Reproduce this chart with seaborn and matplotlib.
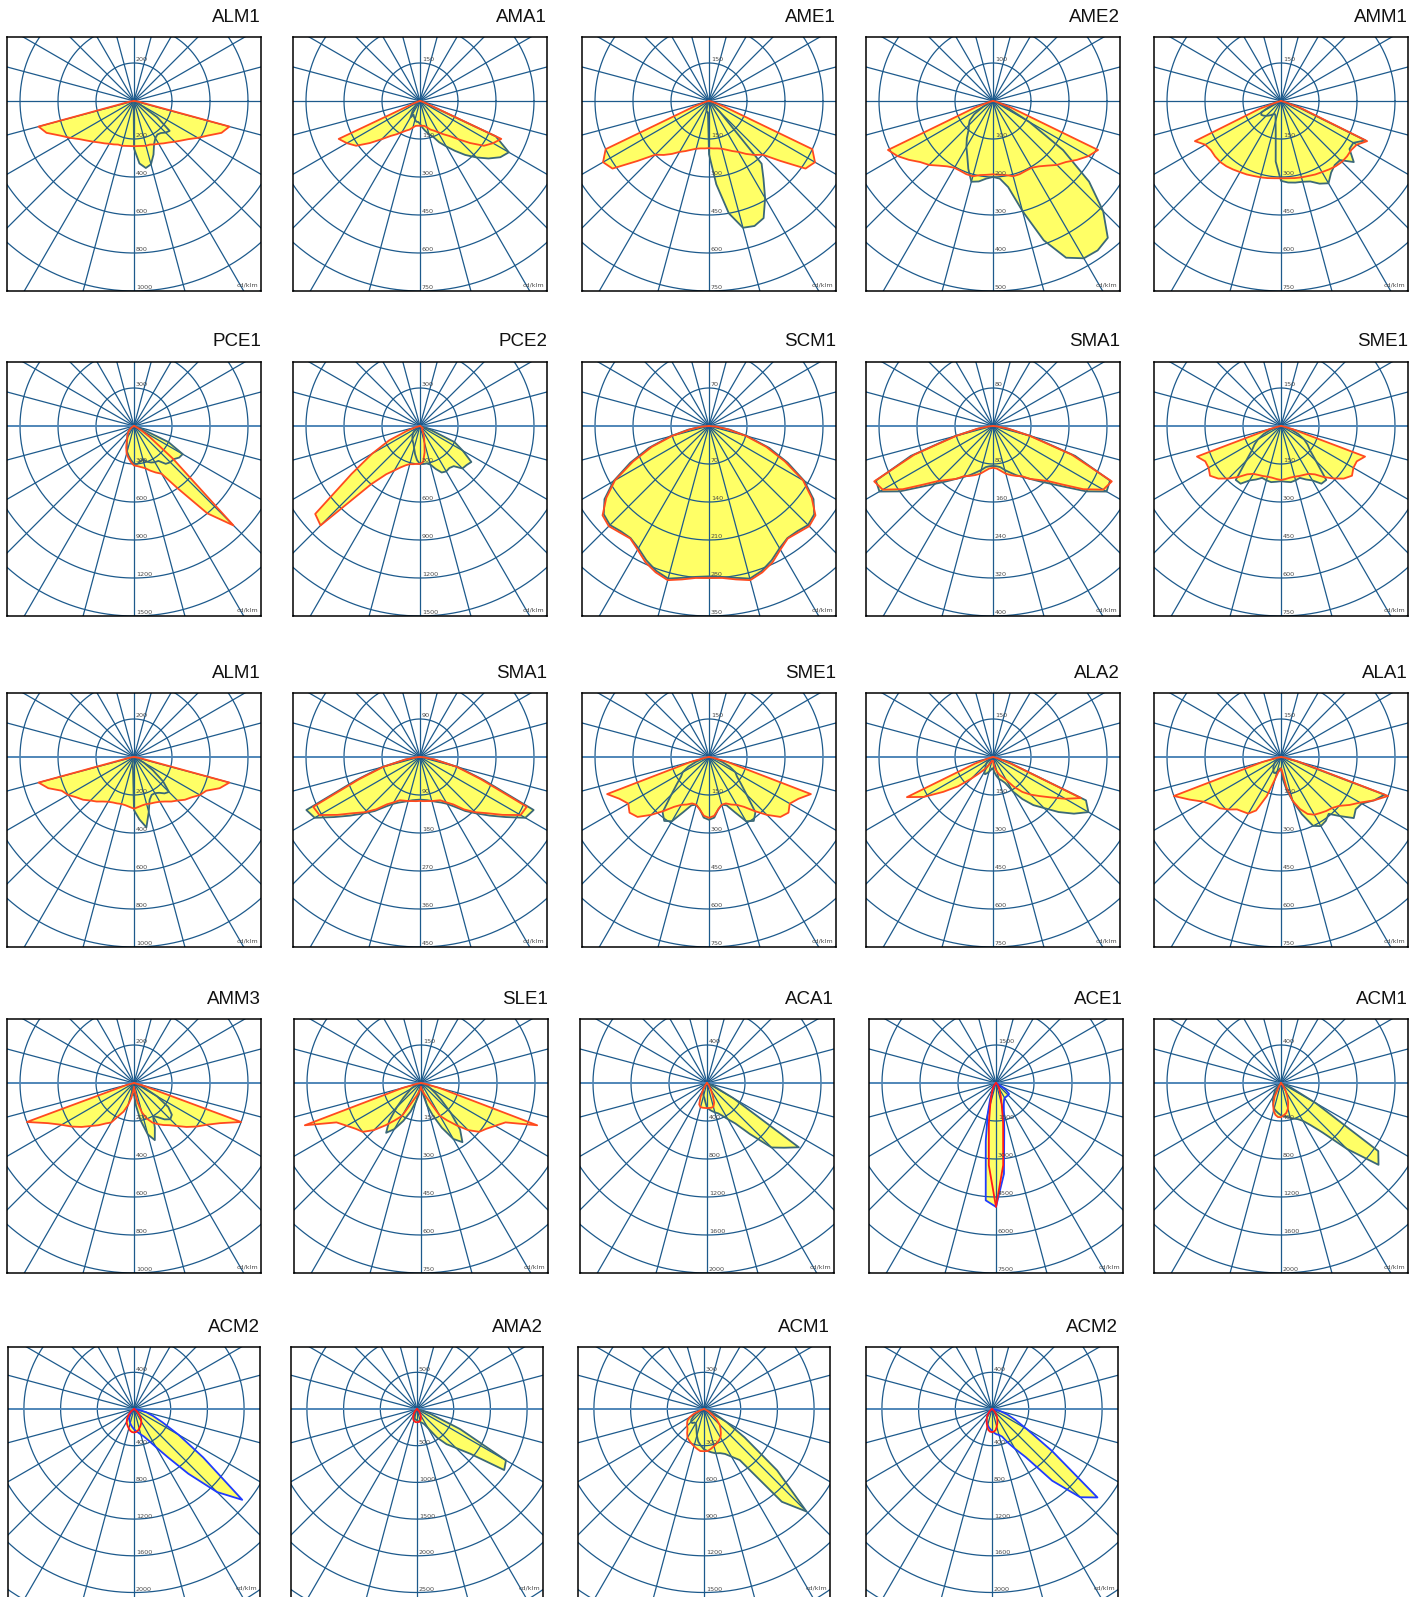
import numpy as np
import pandas as pd
import matplotlib
matplotlib.use("Agg")
import matplotlib.pyplot as plt
import seaborn as sns


def mirror(half):
    # symmetric plane: values are given for gamma 0..90 only
    return half[:0:-1] + half


# gamma angles (deg from nadir, negative = left), 5 deg steps
GAMMA = list(range(-90, 95, 5))

TITLES = ["ALM1", "AMA1", "AME1", "AME2", "AMM1",
          "PCE1", "PCE2", "SCM1", "SMA1", "SME1",
          "ALM1", "SMA1", "SME1", "ALA2", "ALA1",
          "AMM3", "SLE1", "ACA1", "ACE1", "ACM1",
          "ACM2", "AMA2", "ACM1", "ACM2"]
RING_STEP = [200, 150, 150, 100, 150,
             300, 300, 70, 80, 150,
             200, 90, 150, 150, 150,
             200, 150, 400, 1500, 400,
             400, 500, 300, 400]

# intensities in cd/klm
P01_RED = mirror([238, 238, 240, 244, 244, 252, 260, 272, 285, 303, 324, 350, 388, 430, 490, 520, 30, 10, 0])
P01_DARK = [0, 0, 0, 0, 0, 0, 0, 0, 0, 0, 5, 5, 10, 10, 10, 15, 15, 20,
            250, 330, 358, 345, 300, 250, 225, 215, 220, 235, 245, 150, 40, 15, 5, 0, 0, 0, 0]
P02_RED = mirror([98, 98, 100, 108, 120, 129, 142, 160, 180, 213, 258, 308, 333, 354, 22, 8, 0, 0, 0])
P02_DARK = [0, 0, 0, 0, 0, 0, 0, 8, 15, 23, 30, 53, 75, 60, 68, 75, 83, 83,
            90, 105, 120, 135, 150, 180, 207, 240, 278, 315, 353, 387, 405, 330, 15, 0, 0, 0, 0]
P03_RED = mirror([186, 188, 190, 195, 205, 218, 232, 255, 278, 300, 368, 465, 483, 450, 60, 15, 8, 0, 0])
P03_DARK = [0, 0, 0, 0, 0, 0, 0, 0, 0, 0, 0, 0, 0, 15, 30, 38, 45, 45,
            210, 330, 450, 518, 525, 510, 443, 375, 323, 60, 15, 0, 0, 0, 0, 0, 0, 0, 0]
P04_RED = mirror([193, 195, 198, 205, 205, 203, 203, 210, 222, 238, 250, 270, 290, 305, 50, 10, 5, 0, 0])
P04_DARK = [0, 0, 0, 0, 0, 10, 30, 60, 80, 90, 100, 120, 140, 160, 190, 220, 215, 205,
            200, 205, 230, 300, 390, 455, 478, 480, 470, 410, 330, 225, 110, 40, 10, 0, 0, 0, 0]
P05_RED = mirror([305, 306, 309, 312, 315, 320, 324, 330, 336, 340, 340, 338, 345, 375, 90, 15, 0, 0, 0])
P05_DARK = [0, 0, 0, 0, 8, 45, 90, 95, 90, 83, 75, 68, 60, 57, 63, 83, 120, 240,
            315, 323, 327, 330, 338, 360, 375, 345, 330, 330, 375, 330, 330, 368, 75, 0, 0, 0, 0]
P06_RED = [0, 0, 0, 0, 0, 0, 15, 30, 45, 60, 75, 90, 105, 135, 180, 225, 255, 285,
           312, 318, 330, 345, 375, 405, 435, 600, 900, 1110, 400, 150, 60, 15, 0, 0, 0, 0, 0]
P06_DARK = [0, 0, 0, 0, 0, 0, 15, 30, 45, 60, 75, 90, 105, 135, 165, 210, 240, 270,
            300, 300, 285, 270, 300, 318, 330, 336, 390, 405, 408, 435, 444, 300, 60, 15, 0, 0, 0]
P07_RED = [0, 0, 0, 30, 105, 270, 435, 660, 1080, 1110, 600, 465, 405, 360, 330, 312, 306, 300,
           300, 285, 210, 135, 90, 60, 30, 30, 30, 30, 30, 15, 0, 0, 0, 0, 0, 0, 0]
P07_DARK = [0, 0, 0, 0, 0, 0, 30, 45, 60, 75, 90, 105, 120, 135, 150, 180, 225, 270,
            300, 300, 300, 315, 360, 405, 414, 405, 414, 474, 480, 495, 390, 300, 90, 15, 0, 0, 0]
P08_RED = mirror([280, 281, 287, 294, 287, 277, 263, 253, 256, 261, 256, 231, 200, 154, 112, 70, 35, 14, 0])
P08_DARK = mirror([277, 279, 284, 291, 284, 273, 260, 252, 253, 258, 253, 235, 203, 160, 118, 74, 39, 14, 0])
P09_RED = mirror([88, 90, 96, 104, 110, 116, 122, 136, 148, 164, 192, 232, 268, 276, 176, 80, 32, 8, 0])
P09_DARK = mirror([84, 85, 88, 96, 104, 114, 124, 136, 152, 172, 200, 240, 276, 272, 184, 84, 32, 8, 0])
P10_RED = mirror([213, 210, 207, 207, 210, 213, 218, 233, 263, 293, 323, 342, 330, 330, 353, 45, 8, 0, 0])
P10_DARK = mirror([218, 221, 225, 222, 218, 233, 248, 278, 278, 195, 150, 128, 105, 75, 45, 15, 0, 0, 0])
P11_RED = mirror([272, 264, 258, 256, 260, 264, 272, 286, 306, 324, 350, 370, 400, 420, 480, 520, 30, 5, 0])
P11_DARK = [0, 0, 0, 0, 0, 0, 0, 0, 0, 0, 0, 0, 0, 0, 10, 20, 40, 60,
            280, 330, 376, 300, 240, 220, 220, 230, 250, 260, 200, 120, 60, 20, 0, 0, 0, 0, 0]
P12_RED = mirror([104, 105, 106, 108, 110, 113, 124, 137, 162, 185, 207, 239, 275, 279, 153, 90, 36, 9, 0])
P12_DARK = mirror([101, 102, 104, 108, 113, 119, 128, 144, 167, 189, 216, 248, 288, 297, 162, 95, 36, 9, 0])
P13_RED = mirror([240, 233, 210, 195, 195, 207, 218, 240, 278, 323, 368, 383, 368, 390, 428, 75, 15, 0, 0])
P13_DARK = mirror([248, 240, 210, 195, 203, 240, 293, 308, 285, 210, 165, 135, 120, 90, 53, 23, 8, 0, 0])
P14_RED = [0, 0, 0, 15, 75, 375, 315, 240, 180, 120, 83, 60, 45, 30, 23, 15, 15, 15,
           15, 30, 45, 60, 75, 87, 105, 143, 180, 210, 240, 278, 330, 383, 75, 15, 0, 0, 0]
P14_DARK = [0, 0, 0, 0, 0, 8, 15, 23, 30, 38, 45, 53, 68, 75, 68, 60, 53, 45,
            45, 60, 75, 90, 98, 113, 158, 203, 248, 285, 338, 390, 435, 405, 75, 15, 0, 0, 0]
P15_RED = [0, 0, 15, 75, 450, 398, 353, 330, 315, 293, 270, 263, 258, 233, 165, 90, 60, 53,
           45, 60, 120, 180, 218, 248, 263, 270, 278, 285, 300, 330, 360, 405, 450, 75, 15, 0, 0]
P15_DARK = [0, 0, 0, 0, 0, 8, 15, 23, 30, 38, 45, 53, 60, 68, 68, 60, 53, 45,
            45, 90, 135, 180, 240, 300, 315, 308, 293, 330, 375, 360, 368, 405, 435, 60, 15, 0, 0]
P16_RED = [0, 0, 0, 40, 600, 500, 440, 400, 360, 320, 290, 260, 240, 190, 160, 120, 80, 40,
           20, 40, 100, 160, 200, 230, 250, 270, 290, 320, 360, 400, 440, 500, 600, 40, 0, 0, 0]
P16_DARK = [0, 0, 0, 0, 0, 0, 0, 0, 0, 0, 0, 0, 10, 20, 30, 40, 50, 60,
            60, 120, 200, 280, 320, 260, 200, 220, 250, 270, 260, 220, 140, 60, 20, 0, 0, 0, 0]
P17_RED = mirror([15, 23, 30, 42, 57, 83, 150, 180, 218, 263, 300, 315, 338, 368, 488, 75, 15, 0, 0])
P17_DARK = [0, 0, 0, 0, 15, 30, 45, 60, 90, 135, 195, 240, 210, 165, 120, 75, 45, 15,
            15, 15, 45, 90, 135, 195, 255, 285, 240, 165, 105, 68, 45, 30, 15, 0, 0, 0, 0]
P18_RED = [0, 0, 0, 0, 0, 0, 0, 0, 0, 0, 20, 40, 80, 160, 240, 264, 264, 264,
           264, 264, 264, 260, 220, 140, 80, 40, 20, 0, 0, 0, 0, 0, 0, 0, 0, 0, 0]
P18_DARK = [0, 0, 0, 0, 0, 0, 0, 0, 0, 20, 40, 60, 80, 100, 120, 140, 160, 200,
            260, 280, 300, 320, 340, 380, 440, 520, 700, 960, 1060, 1180, 320, 80, 20, 0, 0, 0, 0]
P19_RED = mirror([4890, 3255, 1620, 870, 540, 345, 240, 150, 90, 45, 0, 0, 0, 0, 0, 0, 0, 0, 0])
P19_DARK = [0, 0, 0, 0, 0, 0, 0, 0, 0, 0, 0, 0, 150, 300, 675, 1275, 2325, 4650,
            4890, 3600, 1875, 1200, 900, 750, 675, 675, 675, 675, 675, 450, 150, 0, 0, 0, 0, 0, 0]
P20_RED = [0, 0, 0, 0, 0, 0, 0, 0, 0, 0, 0, 0, 40, 160, 240, 300, 340, 360,
           360, 340, 320, 280, 220, 160, 100, 60, 20, 0, 0, 0, 0, 0, 0, 0, 0, 0, 0]
P20_DARK = [0, 0, 0, 0, 0, 0, 0, 0, 0, 40, 100, 120, 160, 200, 240, 280, 300, 320,
            340, 352, 360, 380, 400, 420, 460, 540, 680, 980, 1340, 1250, 420, 120, 40, 0, 0, 0, 0]
P21_RED = mirror([256, 252, 240, 220, 200, 180, 160, 132, 100, 72, 40, 20, 0, 0, 0, 0, 0, 0, 0])
P21_DARK = [0, 0, 0, 0, 0, 0, 0, 0, 20, 40, 60, 80, 100, 120, 140, 160, 180, 200,
            220, 240, 260, 288, 320, 380, 480, 640, 920, 1280, 1540, 920, 560, 340, 220, 140, 60, 20, 0]
P22_RED = mirror([180, 180, 175, 165, 150, 125, 100, 75, 50, 25, 0, 0, 0, 0, 0, 0, 0, 0, 0])
P22_DARK = [0, 0, 0, 0, 0, 0, 0, 0, 0, 0, 0, 25, 50, 75, 100, 125, 140, 150,
            150, 165, 175, 185, 200, 225, 300, 475, 625, 750, 950, 1450, 1400, 650, 200, 50, 0, 0, 0]
P23_RED = [0, 0, 0, 0, 30, 90, 135, 165, 180, 195, 210, 240, 270, 285, 300, 315, 330, 345,
           345, 345, 330, 315, 300, 285, 270, 240, 210, 180, 135, 90, 45, 15, 0, 0, 0, 0, 0]
P23_DARK = [0, 0, 0, 0, 0, 30, 75, 105, 135, 150, 150, 135, 135, 150, 180, 225, 270, 300,
            330, 345, 360, 375, 384, 405, 450, 510, 990, 1185, 780, 405, 210, 105, 45, 15, 0, 0, 0]
P24_RED = mirror([252, 248, 232, 200, 168, 140, 112, 88, 60, 40, 20, 0, 0, 0, 0, 0, 0, 0, 0])
P24_DARK = [0, 0, 0, 0, 0, 0, 0, 0, 20, 40, 60, 80, 112, 140, 160, 180, 200, 220,
            240, 260, 280, 292, 320, 400, 500, 640, 1020, 1360, 1500, 800, 440, 280, 180, 100, 40, 0, 0]

RED = [P01_RED, P02_RED, P03_RED, P04_RED, P05_RED, P06_RED, P07_RED, P08_RED,
       P09_RED, P10_RED, P11_RED, P12_RED, P13_RED, P14_RED, P15_RED, P16_RED,
       P17_RED, P18_RED, P19_RED, P20_RED, P21_RED, P22_RED, P23_RED, P24_RED]
DARK = [P01_DARK, P02_DARK, P03_DARK, P04_DARK, P05_DARK, P06_DARK, P07_DARK, P08_DARK,
        P09_DARK, P10_DARK, P11_DARK, P12_DARK, P13_DARK, P14_DARK, P15_DARK, P16_DARK,
        P17_DARK, P18_DARK, P19_DARK, P20_DARK, P21_DARK, P22_DARK, P23_DARK, P24_DARK]

# panels where the planes are drawn in pure blue / pure red
BLUE_PANELS = [18, 20, 23]
PURE_RED_PANELS = [18, 20, 21, 23]

# layout (pixels of the 1422x1597 figure)
W, H = 1422, 1597
ROW_TOP = [37, 362, 693, 1019, 1347]
ROW_BOX = [254, 254, 254, 254, 252]      # box size
ROW_RING = [38.0, 38.0, 38.0, 38.0, 36.7]  # pixels per ring
ROW_CY = [64, 64, 64, 64, 62]            # centre below box top
COL_LEFT = [[7, 293, 582, 866, 1154], [7, 293, 582, 866, 1154], [7, 293, 582, 866, 1154],
            [7, 294, 580, 869, 1154], [8, 291, 578, 866]]

GRID = "#1d5a8c"
AXIS_H = "#4f86b8"
YELLOW = "#ffff66"
TEAL = "#3a6878"
ORANGE_RED = "#ff4a1f"
LABEL = "#4a4a4a"

sns.set_theme(style="white")
plt.rcParams["font.family"] = ["DejaVu Sans"]

fig = plt.figure(figsize=(W / 100, H / 100), dpi=100)

g = np.radians(GAMMA)
theta = np.linspace(0, 2 * np.pi, 361)

i = 0
for row, top in enumerate(ROW_TOP):
    box, ring, cy = ROW_BOX[row], ROW_RING[row], ROW_CY[row]
    for left in COL_LEFT[row]:
        step = RING_STEP[i]
        ax = fig.add_axes([left / W, 1 - (top + box) / H, box / W, box / H])

        red_col = "#ff1a1a" if i in PURE_RED_PANELS else ORANGE_RED
        dark_col = "#1f3cff" if i in BLUE_PANELS else TEAL

        frames = []
        for vals in (DARK[i], RED[i]):
            assert len(vals) == len(GAMMA)
            r = np.asarray(vals, dtype=float) / step
            df = pd.DataFrame({"x": np.r_[0, r * np.sin(g), 0],
                               "y": np.r_[0, -r * np.cos(g), 0]})
            ax.fill(df["x"], df["y"], color=YELLOW, lw=0, zorder=1)
            frames.append(df)

        # polar grid: rings and 15 deg spokes
        for k in range(1, 8):
            ax.plot(k * np.cos(theta), k * np.sin(theta), color=GRID, lw=0.9, zorder=2)
        for a in range(15, 180, 15):
            t = np.radians(a)
            ax.plot([-10 * np.cos(t), 10 * np.cos(t)], [-10 * np.sin(t), 10 * np.sin(t)],
                    color=GRID, lw=0.9, zorder=2)
        ax.axhline(0, color=GRID if row == 0 else AXIS_H, lw=0.9 if row == 0 else 1.4, zorder=2)

        sns.lineplot(data=frames[0], x="x", y="y", sort=False, estimator=None,
                     color=dark_col, lw=1.3, ax=ax, zorder=3)
        sns.lineplot(data=frames[1], x="x", y="y", sort=False, estimator=None,
                     color=red_col, lw=1.3, ax=ax, zorder=4)

        half_w = box / 2 / ring
        ax.set_xlim(-half_w, half_w)
        ax.set_ylim(-(box - cy) / ring, cy / ring)
        ax.set_xticks([])
        ax.set_yticks([])
        ax.set_xlabel("")
        ax.set_ylabel("")
        for s in ax.spines.values():
            s.set_color("black")
            s.set_linewidth(1.1)

        # ring labels, sitting just above each ring on the vertical axis
        ax.text(0.05, 1.08, f"{step}", fontsize=4.6, color=LABEL, ha="left", va="center", zorder=5)
        for k in range(1, 6):
            ax.text(0.05, -k + 0.08, f"{step * k}", fontsize=4.6, color=LABEL,
                    ha="left", va="center", zorder=5)
        ax.text(0.99, 0.014 if row < 4 else 0.035, "cd/klm", transform=ax.transAxes,
                fontsize=4.6, color=LABEL, ha="right", va="bottom")

        ax.text(1.0, 1 + 20 / box, TITLES[i], transform=ax.transAxes, ha="right",
                va="center", fontsize=13.5, color="#111111",
                family=["Liberation Sans", "DejaVu Sans"])
        i += 1

fig.savefig("out.png", dpi=100, facecolor="white")
